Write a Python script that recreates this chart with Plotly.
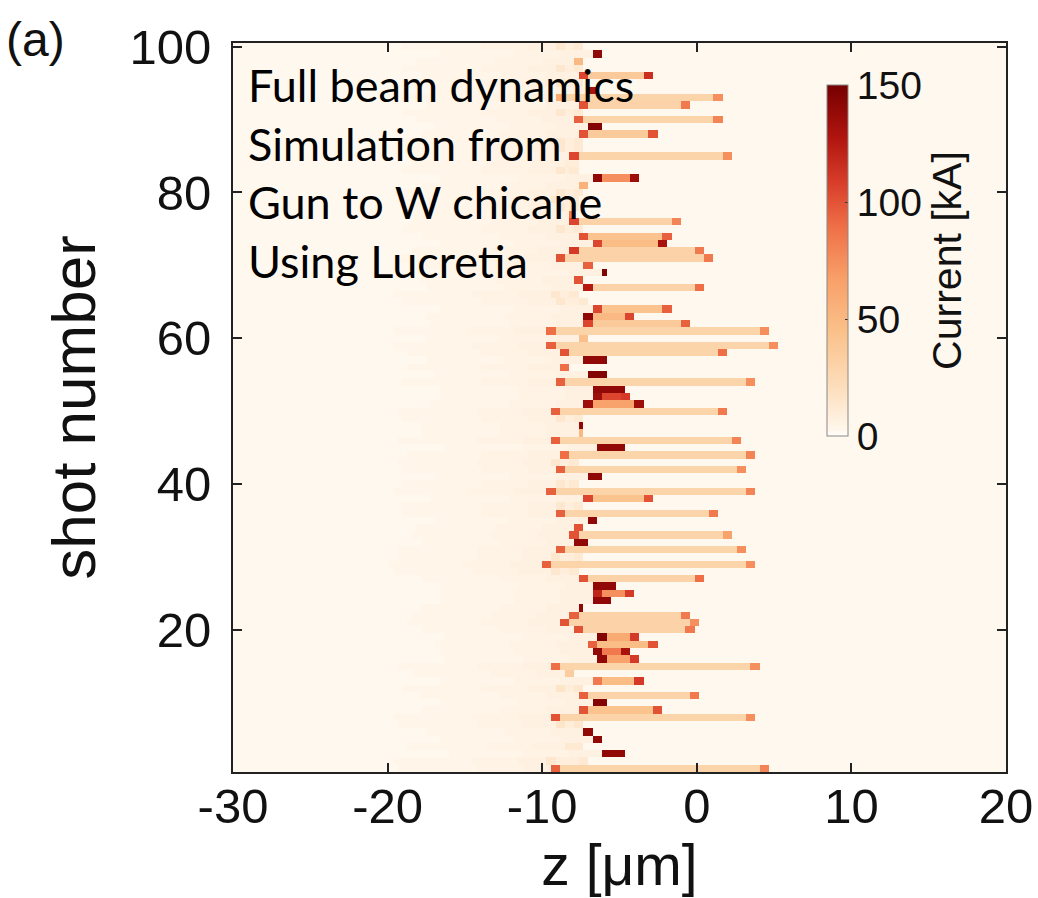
import numpy as np
import plotly.graph_objects as go

# Per-shot longitudinal current profile parameters (shots 1..100)
# z_head / z_tail: left and right edges of the bunch [um]
# i_head / i_tail: current of the edge spikes [kA]; i_body: current between them [kA]
z_head = [-9.3, -9.6, -6.1, -8.6, -6.7, -7.4, -9.2, -9.5, -7.7, -6.6,
          -7.7, -9.0, -6.7, -8.4, -9.3, -6.3, -6.7, -7.0, -6.3, -7.8,
          -8.8, -8.3, -7.7, -6.7, -6.7, -6.6, -7.7, -9.5, -10.0, -9.3,
          -9.2, -7.8, -8.3, -8.0, -7.0, -9.0, -9.0, -7.2, -9.7, -9.0,
          -7.0, -9.0, -9.3, -8.8, -6.3, -9.3, -7.7, -7.7, -9.0, -9.3,
          -7.2, -6.6, -6.6, -9.0, -7.0, -8.8, -7.4, -8.8, -9.6, -7.6,
          -9.7, -7.2, -7.4, -6.7, -9.0, -9.5, -7.4, -7.9, -6.2, -7.4,
          -9.2, -8.3, -6.7, -7.7, -9.0, -8.3, -8.3, -9.0, -9.3, -9.0,
          -7.7, -6.6, -9.0, -8.5, -8.3, -9.0, -9.0, -7.7, -7.0, -8.0,
          -9.0, -7.6, -9.0, -7.0, -9.0, -7.7, -9.0, -8.0, -6.7, -9.0]
z_tail = [4.6, -7.0, -4.6, -7.4, -6.2, -6.6, -7.4, 3.9, -2.3, -5.8,
          0.3, -7.2, -3.3, -7.8, 4.2, -3.6, -4.4, -2.5, -3.8, -0.1,
          0.3, -0.4, -7.2, -5.5, -4.0, -5.3, 0.5, -7.5, 3.7, -7.3,
          3.3, -7.1, 2.3, -7.3, -6.4, 1.5, -7.3, -2.8, 3.8, -7.5,
          -6.1, 3.3, -7.5, 3.7, -4.5, 2.9, -7.2, -7.2, -7.3, 2.0,
          -3.4, -4.2, -4.6, 3.7, -5.8, -8.1, -5.8, 1.9, 5.2, -7.1,
          4.8, -0.4, -4.0, -1.5, -7.0, -7.5, 0.6, -7.4, -5.7, -6.8,
          1.2, 0.4, -2.0, -1.7, -7.3, -1.0, -7.8, -7.5, -7.5, -7.3,
          -7.0, -3.8, -7.5, -7.5, 2.4, -7.3, -7.3, -2.6, -6.2, 1.7,
          -7.3, -0.3, 1.7, -6.5, -7.3, -2.7, -7.3, -7.4, -6.0, -7.3]
i_head = [95, 14, 140, 20, 140, 140, 16, 100, 100, 145,
          95, 16, 85, 45, 90, 140, 140, 95, 145, 100,
          100, 95, 140, 140, 120, 140, 100, 14, 95, 14,
          95, 140, 100, 100, 140, 95, 14, 105, 95, 14,
          140, 95, 14, 90, 140, 95, 50, 140, 14, 95,
          135, 135, 140, 95, 145, 90, 140, 100, 95, 45,
          90, 105, 140, 105, 14, 14, 125, 100, 145, 95,
          100, 110, 105, 100, 14, 105, 85, 14, 14, 14,
          55, 140, 14, 16, 105, 14, 14, 100, 145, 95,
          14, 100, 60, 130, 14, 105, 14, 50, 140, 14]
i_tail = [80, 12, 140, 18, 140, 140, 14, 75, 100, 145,
          85, 14, 110, 40, 75, 110, 130, 100, 110, 85,
          75, 85, 140, 140, 110, 140, 90, 12, 75, 12,
          75, 140, 65, 100, 140, 85, 12, 100, 80, 12,
          140, 75, 12, 80, 140, 80, 50, 140, 12, 85,
          135, 110, 140, 75, 145, 90, 140, 90, 75, 45,
          75, 95, 105, 95, 12, 12, 90, 100, 145, 95,
          85, 85, 130, 95, 12, 80, 85, 12, 12, 12,
          55, 135, 12, 14, 75, 12, 12, 100, 145, 80,
          12, 85, 75, 130, 12, 115, 12, 50, 140, 12]
i_body = [29, 9, 140, 12, 140, 140, 10, 29, 42, 145,
          30, 10, 47, 35, 29, 65, 85, 47, 60, 30,
          30, 30, 140, 140, 75, 140, 30, 9, 29, 9,
          29, 140, 29, 100, 140, 29, 9, 42, 29, 9,
          140, 29, 9, 29, 140, 29, 50, 140, 9, 29,
          65, 105, 140, 29, 145, 90, 140, 29, 29, 45,
          29, 37, 50, 42, 9, 9, 30, 100, 145, 95,
          30, 30, 47, 42, 9, 30, 85, 9, 9, 9,
          55, 75, 9, 10, 29, 9, 9, 37, 145, 29,
          9, 30, 29, 130, 9, 37, 9, 50, 140, 9]

shots = np.arange(1, len(z_head) + 1)
z = np.arange(-30.0, 20.0 + 1e-9, 0.3)

# Build the current map row by row
current = np.full((len(shots), len(z)), 2.0)
spike_w = 0.6
for k in range(len(shots)):
    a, b = z_head[k], z_tail[k]
    row = current[k]
    row[(z >= a - 10) & (z < a - 5)] = 3.5
    row[(z >= a - 5) & (z < a - 2)] = 5.0
    row[(z >= a - 2) & (z < a)] = 6.5
    row[(z >= a) & (z <= b)] = i_body[k]
    if b - a > 2 * spike_w:
        row[(z >= a) & (z < a + spike_w)] = i_head[k]
        row[(z > b - spike_w) & (z <= b)] = i_tail[k]

W, H = 1038, 898
L, R, T, B = 233, 1006, 43, 772


def px(x):
    return (x - L) / (R - L)


def py(y):
    return (B - y) / (B - T)


colorscale = [
    [0.00, '#fffdfa'], [0.02, '#fff6ea'], [0.15, '#fcdcb8'],
    [0.30, '#fbc089'], [0.45, '#f89f68'], [0.60, '#ee6e46'],
    [0.72, '#d83e2a'], [0.85, '#b0150f'], [1.00, '#760000'],
]

fig = go.Figure(go.Heatmap(
    x=z, y=shots, z=current, zmin=0, zmax=150,
    colorscale=colorscale, zsmooth=False,
    colorbar=dict(
        x=px(827), xanchor='left', xref='paper',
        y=py(436), yanchor='bottom', yref='paper',
        len=(436 - 85) / (B - T), lenmode='fraction',
        thickness=21, thicknessmode='pixels',
        outlinecolor='#888888', outlinewidth=1,
        tickvals=[0, 50, 100, 150], ticks='inside', ticklen=3,
        tickcolor='#333333',
        tickfont=dict(family='Liberation Sans', size=39, color='#111111'),
        title=dict(text='Current [kA]', side='right',
                   font=dict(family='Liberation Sans', size=41, color='#111111')),
        xpad=0, ypad=0,
    ),
))

axis_common = dict(
    showline=True, linecolor='#222222', linewidth=2, mirror='ticks',
    ticks='inside', ticklen=9, tickwidth=2, tickcolor='#222222',
    showgrid=False, zeroline=False, automargin=False,
    tickfont=dict(family='Liberation Sans', size=49, color='#111111'),
)

x_ticks = [-30, -20, -10, 0, 10, 20]
y_ticks = [20, 40, 60, 80, 100]

fig.update_layout(
    width=W, height=H,
    margin=dict(l=L, r=W - R, t=T, b=H - B),
    paper_bgcolor='white', plot_bgcolor='#fff6ea',
    xaxis=dict(range=[-30, 20], tickvals=x_ticks,
               ticktext=[str(v) for v in x_ticks],
               ticklabelstandoff=-10,
               title=dict(text='z [\u03bcm]', standoff=0,
                          font=dict(family='Liberation Sans', size=57, color='#111111')),
               **axis_common),
    yaxis=dict(range=[0.5, 100.5], tickvals=y_ticks,
               ticktext=[str(v) for v in y_ticks],
               ticklabelstandoff=10,
               title=dict(text='shot number', standoff=14,
                          font=dict(family='Liberation Sans', size=62, color='#111111')),
               **axis_common),
    annotations=[
        dict(text='(a)', x=px(4), y=py(40), xref='paper', yref='paper',
             xanchor='left', yanchor='middle', showarrow=False,
             font=dict(family='Liberation Sans', size=48, color='#111111')),
        dict(text='Full beam dynamics<br>Simulation from<br>Gun to W chicane<br>Using Lucretia',
             x=px(246), y=py(56), xref='paper', yref='paper',
             xanchor='left', yanchor='top', align='left', showarrow=False,
             font=dict(family='Lato', size=45, color='#000000')),
    ],
)

fig.write_html('out.html')
